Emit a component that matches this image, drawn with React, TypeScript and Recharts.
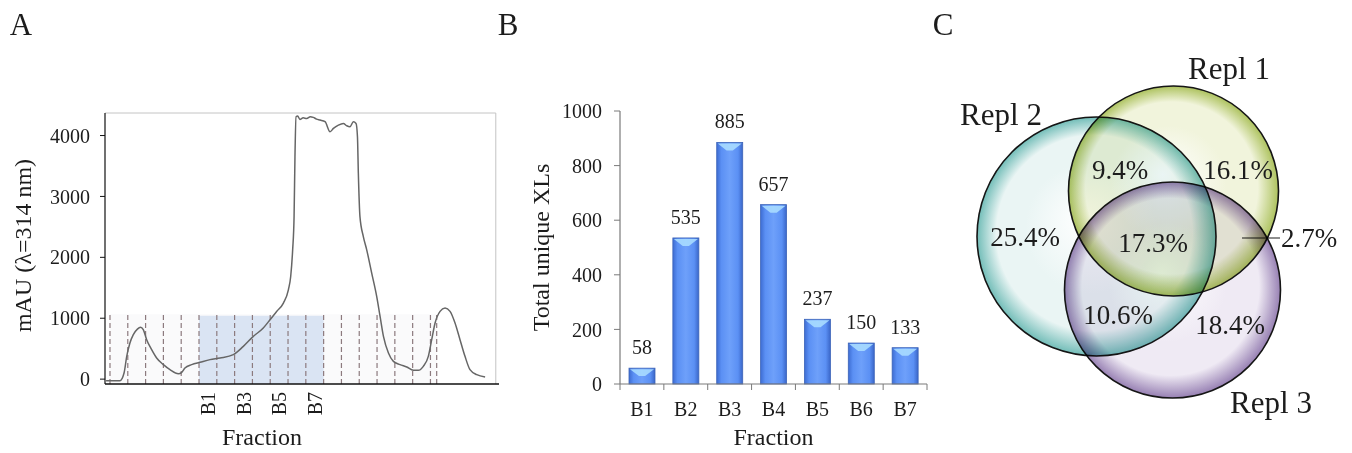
import React from 'react';
import {
  ComposedChart, Line, XAxis, YAxis, ReferenceLine, ReferenceArea,
  BarChart, Bar, LabelList, ScatterChart, Scatter,
} from 'recharts';

const FONT = '"Liberation Serif", "Times New Roman", Times, serif';
const INK = '#1c1c1c';
const TITLE_SIZE = 24;

// ---------------- Panel A: chromatogram ----------------
const elutionFraction = [-0.22, 0.56, 0.79, 0.94, 1.12, 1.31, 1.54, 1.72, 1.87, 2.06, 2.34, 2.62, 3.0, 3.37, 3.84, 4.03, 4.21, 4.59, 5.06, 5.62, 6.18, 6.93, 7.49, 8.05, 8.61, 8.99, 9.36, 9.74, 10.02, 10.15, 10.26, 10.34, 10.39, 10.45, 10.54, 10.67, 10.85, 11.05, 11.25, 11.42, 11.6, 11.8, 12.08, 12.36, 12.55, 12.83, 13.11, 13.3, 13.48, 13.67, 13.82, 13.9, 13.95, 14.04, 14.23, 14.42, 14.7, 14.98, 15.17, 15.36, 15.64, 15.92, 16.29, 16.67, 17.04, 17.32, 17.6, 17.88, 18.07, 18.26, 18.54, 18.82, 19.1, 19.38, 19.66, 19.94, 20.22, 20.6, 21.07];
const absorbanceMAU = [-25, -25, 101, 374, 593, 730, 822, 850, 811, 648, 484, 347, 238, 156, 90, 112, 183, 238, 276, 320, 347, 402, 538, 702, 839, 975, 1112, 1249, 1467, 1686, 2123, 2669, 3653, 4309, 4320, 4265, 4290, 4281, 4310, 4298, 4270, 4254, 4227, 4063, 4117, 4172, 4199, 4160, 4145, 4227, 4199, 3981, 3380, 2669, 2341, 2123, 1740, 1358, 1030, 702, 429, 292, 238, 199, 145, 145, 210, 374, 648, 921, 1112, 1167, 1112, 921, 648, 374, 156, 74, 36];
const fractionBoundaries = [0, 1, 2, 3, 4, 5, 6, 7, 8, 9, 10, 11, 12, 13, 14, 15, 16, 17, 18, 18.35];
const pooledFrom = 5;
const pooledTo = 12;
const pooledTop = 1040;
const markerTop = 1065;
const aYTicks = [0, 1000, 2000, 3000, 4000];
const aXTicks = [5.5, 7.5, 9.5, 11.5];
const aXTickLabels = ['B1', 'B3', 'B5', 'B7'];
const aXDomain = [-0.28, 21.85];
const aYDomain = [-80, 4370];
const aFrameRight = 21.67;

const traceData = elutionFraction.map((u, i) => ({ u, mau: absorbanceMAU[i] }));

// ---------------- Panel B: bars ----------------
const fractions = ['B1', 'B2', 'B3', 'B4', 'B5', 'B6', 'B7'];
const uniqueXLs = [58, 535, 885, 657, 237, 150, 133];
const bYTicks = [0, 200, 400, 600, 800, 1000];
const barData = fractions.map((f, i) => ({ pos: i + 0.5, fraction: f, xls: uniqueXLs[i] }));
const bXTicks = Array.from({ length: fractions.length * 2 + 1 }, (_, i) => i / 2);
const B_AXIS = '#7a7a7a';

// ---------------- Panel C: Venn ----------------
const replNames = ['Repl 2', 'Repl 1', 'Repl 3'];
const replX = [156.5, 233.5, 232.5];
const replY = [196.5, 151, 250];
const replR = [119.5, 105, 108];
const replCore = ['#eaf5f4', '#f1f4dc', '#efeaf4'];
const replEdge = ['#72bdb8', '#adc25e', '#9780b3'];
const replLabelX = [61, 289, 331];
const replLabelY = [74, 28, 362];
const regionText = ['9.4%', '16.1%', '25.4%', '17.3%', '10.6%', '18.4%', '2.7%'];
const regionX = [180, 298, 85, 213, 178, 290, 341];
const regionY = [130, 130, 197, 203, 275, 285, 198];
const VENN_W = 400;
const VENN_DOMAIN = [0, 400];
const VENN_SCALE = VENN_W / (VENN_DOMAIN[1] - VENN_DOMAIN[0]);

const circleData = replNames.map((n, i) => ({ x: replX[i], y: replY[i], r: replR[i], idx: i }));
const textData = [
  ...replNames.map((n, i) => ({ x: replLabelX[i], y: replLabelY[i], text: n, size: 31, anchor: 'middle' })),
  ...regionText.map((t, i) => ({ x: regionX[i], y: regionY[i], text: t, size: 27, anchor: i === 6 ? 'start' : 'middle' })),
];

const RotTick = (p: any) => {
  const { x, y, payload } = p;
  const idx = aXTicks.indexOf(payload.value);
  return (
    <text x={x} y={y} transform={`rotate(-90, ${x}, ${y})`} textAnchor="end" dominantBaseline="central"
      fontSize={20} fontFamily={FONT} fill={INK}>{aXTickLabels[idx]}</text>
  );
};

const BTick = (p: any) => {
  const { x, y, payload } = p;
  const v = payload.value;
  if (Number.isInteger(v)) {
    return <line x1={x} x2={x} y1={y} y2={y + 6} stroke={B_AXIS} strokeWidth={1} />;
  }
  return (
    <text x={x} y={y + 32} textAnchor="middle" fontSize={20} fontFamily={FONT} fill={INK}>
      {fractions[Math.floor(v)]}
    </text>
  );
};

const BevelBar = (p: any) => {
  const { x, y, width, height } = p;
  if (!height || height <= 0) return null;
  const cap = Math.min(8, height / 2);
  return (
    <g>
      <defs>
        <linearGradient id="barGradB" x1="0" y1="0" x2="1" y2="0">
          <stop offset="0%" stopColor="#3d6cd2" />
          <stop offset="18%" stopColor="#5b90f4" />
          <stop offset="50%" stopColor="#6ea0fa" />
          <stop offset="82%" stopColor="#5b90f4" />
          <stop offset="100%" stopColor="#3a66c8" />
        </linearGradient>
      </defs>
      <rect x={x} y={y} width={width} height={height} fill="url(#barGradB)" stroke="#3c64b8" strokeWidth={0.8} />
      <polygon points={`${x + 1},${y + 1} ${x + width - 1},${y + 1} ${x + width * 0.62},${y + cap} ${x + width * 0.38},${y + cap}`}
        fill="#a9dcff" opacity={0.9} />
    </g>
  );
};

const VennCircle = (p: any) => {
  const { cx, cy, payload } = p;
  const i = payload.idx;
  const r = payload.r * VENN_SCALE;
  const id = `vennGrad${i}`;
  return (
    <g style={{ mixBlendMode: 'multiply' }}>
      <defs>
        <radialGradient id={id} cx="50%" cy="50%" r="50%" fx="45%" fy="42%">
          <stop offset="0%" stopColor="#ffffff" />
          <stop offset="55%" stopColor={replCore[i]} />
          <stop offset="82%" stopColor={replCore[i]} />
          <stop offset="100%" stopColor={replEdge[i]} />
        </radialGradient>
      </defs>
      <circle cx={cx} cy={cy} r={r} fill={`url(#${id})`} stroke="#151515" strokeWidth={1.6} />
    </g>
  );
};

const VennText = (p: any) => {
  const { cx, cy, payload } = p;
  return (
    <text x={cx} y={cy} textAnchor={payload.anchor} dominantBaseline="central" fontSize={payload.size}
      fontFamily={FONT} fill={INK}>{payload.text}</text>
  );
};

export default function App() {
  return (
    <div style={{ position: 'absolute', left: 0, top: 0, width: 1352, height: 453, background: '#fff', fontFamily: FONT }}>
      {/* Panel A */}
      <div style={{ position: 'absolute', left: 0, top: 0 }}>
        <ComposedChart width={520} height={453} data={traceData} margin={{ top: 113, right: 21, bottom: 0, left: 0 }}>
          <XAxis type="number" dataKey="u" domain={aXDomain} allowDataOverflow ticks={aXTicks} interval={0}
            tick={(p: any) => <RotTick {...p} />} tickLine={false} tickSize={0} tickMargin={8} height={69}
            axisLine={{ stroke: '#111', strokeWidth: 1.5 }}
            label={{ value: 'Fraction', position: 'insideBottom', offset: 8, dx: -40, fontSize: TITLE_SIZE, fill: INK, fontFamily: FONT }} />
          <YAxis type="number" domain={aYDomain} allowDataOverflow ticks={aYTicks} interval={0} width={105}
            tickSize={5} tickMargin={10} axisLine={{ stroke: '#111', strokeWidth: 1.2 }} tickLine={{ stroke: '#111' }}
            tick={{ fontSize: 20, fill: INK, fontFamily: FONT }}
            label={{ value: 'mAU (λ=314 nm)', angle: -90, position: 'insideLeft', offset: 22, dy: -3, textAnchor: 'middle', fontSize: TITLE_SIZE, fill: INK, fontFamily: FONT }} />
          <ReferenceArea x1={fractionBoundaries[0]} x2={fractionBoundaries[fractionBoundaries.length - 1]} y1={aYDomain[0]} y2={markerTop}
            fill="#fafafb" fillOpacity={1} stroke="none" />
          <ReferenceArea x1={pooledFrom} x2={pooledTo} y1={aYDomain[0]} y2={pooledTop} fill="#dae4f3" fillOpacity={1} stroke="none" />
          {fractionBoundaries.map((b) => (
            <ReferenceLine key={`fb${b}`} segment={[{ x: b, y: aYDomain[0] }, { x: b, y: markerTop }]}
              stroke="#8c7a7e" strokeDasharray="5 3" strokeWidth={1.2} />
          ))}
          <ReferenceLine segment={[{ x: aXDomain[0], y: aYDomain[1] }, { x: aFrameRight, y: aYDomain[1] }]} stroke="#c4c4c4" />
          <ReferenceLine segment={[{ x: aFrameRight, y: aYDomain[0] }, { x: aFrameRight, y: aYDomain[1] }]} stroke="#c4c4c4" />
          <Line type="monotone" dataKey="mau" stroke="#666" strokeWidth={1.5} dot={false} isAnimationActive={false} />
        </ComposedChart>
      </div>

      {/* Panel B */}
      <div style={{ position: 'absolute', left: 500, top: 0 }}>
        <BarChart width={440} height={453} data={barData} margin={{ top: 111, right: 13, bottom: 0, left: 0 }}>
          <XAxis type="number" dataKey="pos" domain={[0, fractions.length]} ticks={bXTicks} interval={0}
            tick={(p: any) => <BTick {...p} />} tickLine={false} tickSize={0} tickMargin={0} height={69}
            axisLine={{ stroke: B_AXIS, strokeWidth: 1.2 }}
            label={{ value: 'Fraction', position: 'insideBottom', offset: 8, fontSize: TITLE_SIZE, fill: INK, fontFamily: FONT }} />
          <YAxis type="number" domain={[0, 1000]} ticks={bYTicks} interval={0} width={120}
            tickSize={6} tickMargin={12} axisLine={{ stroke: B_AXIS, strokeWidth: 1.2 }} tickLine={{ stroke: B_AXIS }}
            tick={{ fontSize: 20, fill: INK, fontFamily: FONT }}
            label={{ value: 'Total unique  XLs', angle: -90, position: 'insideLeft', offset: 40, textAnchor: 'middle', fontSize: TITLE_SIZE, fill: INK, fontFamily: FONT }} />
          <Bar dataKey="xls" barSize={26} shape={(p: any) => <BevelBar {...p} />} isAnimationActive={false}>
            <LabelList dataKey="xls" position="top" offset={14} fontSize={20} fill={INK} fontFamily={FONT} />
          </Bar>
        </BarChart>
      </div>

      {/* Panel C */}
      <div style={{ position: 'absolute', left: 940, top: 40 }}>
        <ScatterChart width={VENN_W} height={400} margin={{ top: 0, right: 0, bottom: 0, left: 0 }}>
          <XAxis type="number" dataKey="x" domain={VENN_DOMAIN} hide />
          <YAxis type="number" dataKey="y" domain={VENN_DOMAIN} reversed hide />
          <Scatter data={circleData} shape={(p: any) => <VennCircle {...p} />} isAnimationActive={false} />
          <ReferenceLine segment={[{ x: 302, y: 198 }, { x: 340, y: 198 }]} stroke={INK} strokeWidth={1.2} />
          <Scatter data={textData} shape={(p: any) => <VennText {...p} />} isAnimationActive={false} />
        </ScatterChart>
      </div>

      {/* Panel letters */}
      <svg width={1352} height={453} style={{ position: 'absolute', left: 0, top: 0, pointerEvents: 'none' }}>
        <text x={21} y={35} textAnchor="middle" fontSize={31} fontFamily={FONT} fill={INK}>A</text>
        <text x={508} y={35} textAnchor="middle" fontSize={31} fontFamily={FONT} fill={INK}>B</text>
        <text x={943} y={35} textAnchor="middle" fontSize={31} fontFamily={FONT} fill={INK}>C</text>
      </svg>
    </div>
  );
}
